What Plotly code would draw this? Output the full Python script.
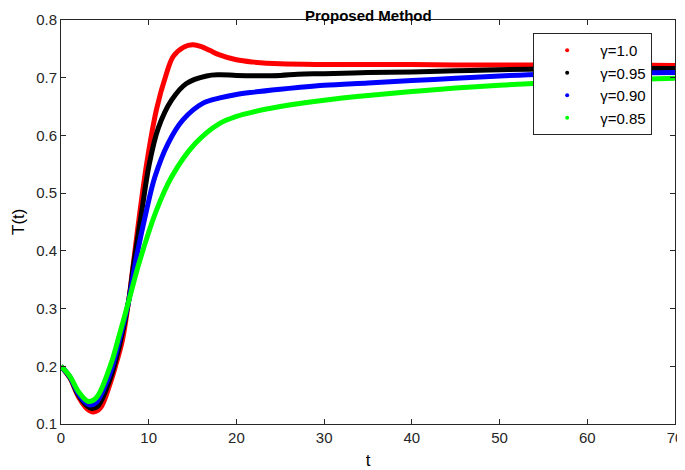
import plotly.graph_objects as go

# ---- data ----
t_red = [0, 1, 2, 3, 3.7, 4.5, 5.6, 6.3, 7.0, 7.7, 8.2, 9.0, 9.83, 10.9, 12, 12.8, 14, 15, 16, 17, 18, 20, 22, 25, 30, 35, 40, 45, 50, 55, 60, 65, 70]
y_red = [0.200, 0.180, 0.147, 0.126, 0.121, 0.128, 0.170, 0.205, 0.245, 0.312, 0.372, 0.468, 0.557, 0.646, 0.706, 0.737, 0.753, 0.757, 0.754, 0.747, 0.740, 0.731, 0.727, 0.724, 0.723, 0.723, 0.723, 0.722, 0.722, 0.722, 0.722, 0.722, 0.721]

t_blk = [0, 1, 2, 3, 3.5, 4.2, 5.6, 6.7, 7.7, 8.3, 9.19, 10.06, 11.1, 12.6, 14.3, 16.6, 18, 20, 22, 25, 27, 30, 35, 40, 45, 50, 55, 60, 65, 70]
y_blk = [0.200, 0.181, 0.150, 0.131, 0.127, 0.131, 0.178, 0.238, 0.312, 0.379, 0.467, 0.550, 0.613, 0.661, 0.690, 0.703, 0.705, 0.704, 0.7035, 0.704, 0.706, 0.707, 0.709, 0.710, 0.712, 0.714, 0.715, 0.716, 0.716, 0.716]

t_blu = [0, 1, 2, 3, 3.3, 4, 5.6, 6.7, 7.7, 8.54, 9.76, 10.7, 12.2, 13.9, 16.2, 18.1, 20, 22, 25, 27, 30, 35, 40, 45, 50, 55, 60, 65, 70]
y_blu = [0.200, 0.182, 0.152, 0.135, 0.133, 0.137, 0.188, 0.248, 0.312, 0.384, 0.471, 0.528, 0.586, 0.627, 0.656, 0.665, 0.671, 0.675, 0.680, 0.683, 0.687, 0.691, 0.695, 0.699, 0.703, 0.706, 0.707, 0.708, 0.709]

t_grn = [0, 1, 2, 3.1, 4, 5.6, 6.7, 7.7, 9.0, 10.9, 12.6, 15.3, 18.1, 20, 22, 25, 27, 30, 35, 40, 45, 50, 55, 60, 65, 70]
y_grn = [0.200, 0.183, 0.156, 0.139, 0.145, 0.200, 0.257, 0.312, 0.384, 0.471, 0.528, 0.586, 0.621, 0.633, 0.641, 0.650, 0.655, 0.661, 0.669, 0.676, 0.682, 0.687, 0.691, 0.694, 0.697, 0.699]

series_names = ["γ=1.0", "γ=0.95", "γ=0.90", "γ=0.85"]
series_colors = ["#ff0000", "#000000", "#0000ff", "#00ff00"]

x_ticks = [0, 10, 20, 30, 40, 50, 60, 70]
y_ticks = [0.1, 0.2, 0.3, 0.4, 0.5, 0.6, 0.7, 0.8]
y_tick_labels = ["0.1", "0.2", "0.3", "0.4", "0.5", "0.6", "0.7", "0.8"]

fig = go.Figure()
for tt, yy, name, col in zip([t_red, t_blk, t_blu, t_grn], [y_red, y_blk, y_blu, y_grn], series_names, series_colors):
    fig.add_trace(go.Scatter(x=tt, y=yy, mode="lines", line=dict(color=col, width=5, shape="spline", smoothing=1.0),
                             showlegend=False, hoverinfo="skip"))
# legend entries shown as dots
for name, col in zip(series_names, series_colors):
    fig.add_trace(go.Scatter(x=[None], y=[None], mode="markers", name=name,
                             marker=dict(color=col, size=4)))

axis_col = "#262626"
# page body has an 8px margin, so the figure is sized/offset to compensate
fig.update_layout(
    width=677, height=462,
    margin=dict(l=53, r=10, t=12, b=46),
    paper_bgcolor="white", plot_bgcolor="white",
    font=dict(family="Liberation Sans, Arial, sans-serif", size=15, color=axis_col),
    showlegend=True,
    legend=dict(x=0.769, y=0.968, xanchor="left", yanchor="top",
                bgcolor="white", bordercolor=axis_col, borderwidth=1,
                font=dict(size=15, color="black"), itemwidth=56, tracegroupgap=0),
    annotations=[
        dict(text="<b>Proposed Method</b>", x=0.5, y=1, xref="paper", yref="paper",
             xanchor="center", yanchor="bottom", yshift=-6, showarrow=False,
             font=dict(size=15, color="black")),
        dict(text="T(t)", x=0, y=0.5, xref="paper", yref="paper", textangle=-90,
             xanchor="center", yanchor="middle", xshift=-43, showarrow=False,
             font=dict(size=17, color="black")),
    ],
)
fig.update_xaxes(range=[0, 70], tickvals=x_ticks, ticks="inside", ticklen=5, tickcolor=axis_col,
                 showline=True, linecolor=axis_col, linewidth=1, mirror="ticks", showgrid=False, zeroline=False,
                 automargin=False,
                 title=dict(text="t", standoff=11, font=dict(size=17, color="black")))
fig.update_yaxes(range=[0.1, 0.8], tickvals=y_ticks, ticktext=y_tick_labels,
                 ticks="inside", ticklen=5, tickcolor=axis_col,
                 showline=True, linecolor=axis_col, linewidth=1, mirror="ticks", showgrid=False, zeroline=False,
                 automargin=False)

fig.write_html("out.html")
